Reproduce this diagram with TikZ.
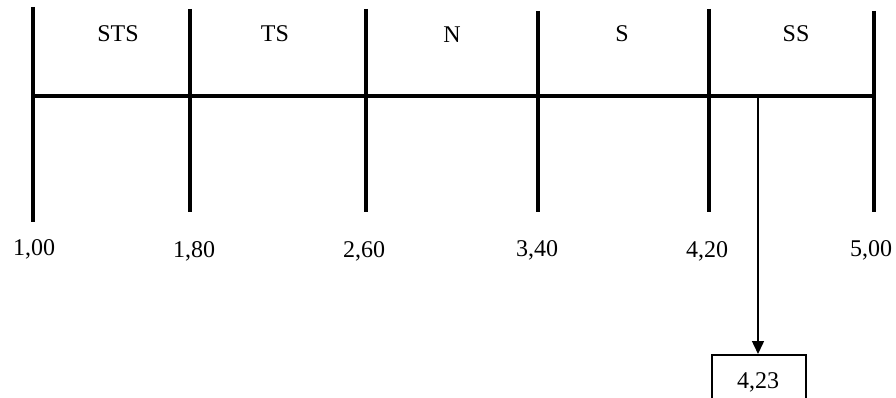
\documentclass[tikz,border=0pt]{standalone}
\usepackage{fontspec}
\setmainfont{Liberation Serif}
\usetikzlibrary{arrows.meta}
\begin{document}
\begin{tikzpicture}[x=1pt,y=-1pt,
  thick line/.style={line width=3.8pt},
  lab/.style={font=\fontsize{24}{28}\selectfont, inner sep=0pt},
  conn/.style={line width=1.5pt,-{Triangle[length=13pt,width=12pt]}},
  valbox/.style={draw,line width=1.6pt,minimum width=94pt,minimum height=50pt,inner sep=0pt,anchor=north}]
\useasboundingbox (0,0) rectangle (896,398);
% tick coordinates
\coordinate (t1a) at (33,7);   \coordinate (t1b) at (33,222);
\coordinate (t2a) at (190,9);  \coordinate (t2b) at (190,212);
\coordinate (t3a) at (366,9);  \coordinate (t3b) at (366,212);
\coordinate (t4a) at (538,11); \coordinate (t4b) at (538,212);
\coordinate (t5a) at (709,9);  \coordinate (t5b) at (709,212);
\coordinate (t6a) at (874,11); \coordinate (t6b) at (874,212);
\coordinate (h1) at (33,96); \coordinate (h2) at (874,96);
\draw[thick line] (t1a) -- (t1b);
\draw[thick line] (t2a) -- (t2b);
\draw[thick line] (t3a) -- (t3b);
\draw[thick line] (t4a) -- (t4b);
\draw[thick line] (t5a) -- (t5b);
\draw[thick line] (t6a) -- (t6b);
\draw[thick line] (h1) -- (h2);
% category labels
\node[lab] (sts) at (118,34) {STS};
\node[lab] (ts) at (275,34) {TS};
\node[lab] (n) at (452,35) {N};
\node[lab] (s) at (622,34) {S};
\node[lab] (ss) at (796,34) {SS};
% value labels
\node[lab] (v1) at (34,249) {1,00};
\node[lab] (v2) at (194,251) {1,80};
\node[lab] (v3) at (364,251) {2,60};
\node[lab] (v4) at (537,250) {3,40};
\node[lab] (v5) at (707,251) {4,20};
\node[lab] (v6) at (871,250) {5,00};
% result
\coordinate (src) at (758,96);
\node[valbox] (res) at (759,354) {};
\node[lab] (rest) at (758,382) {4,23};
\draw[conn] (src) -- (res.north -| src);
\end{tikzpicture}
\end{document}
